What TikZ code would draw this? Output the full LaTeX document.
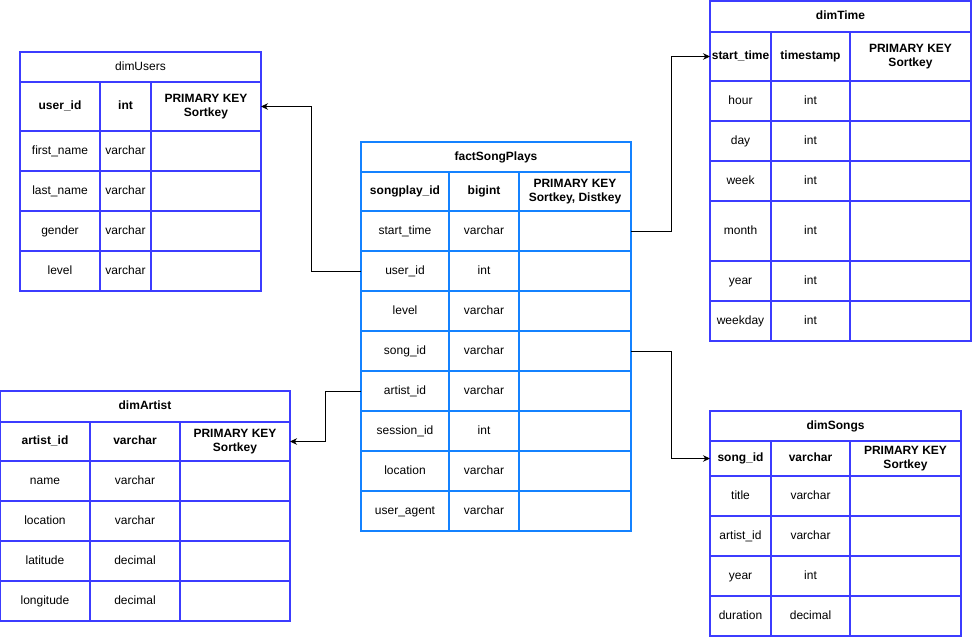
\documentclass[tikz,border=0pt]{standalone}
\usepackage{fontspec}
\setmainfont{Liberation Sans}
\usepackage{xcolor}
\usetikzlibrary{arrows.meta}

\definecolor{dimblue}{RGB}{60,60,255}
\definecolor{factblue}{RGB}{20,130,255}

\tikzset{
  cell/.style={draw=dimblue, line width=1.5pt, inner sep=1pt, outer sep=0pt, align=center, text height=9pt, text depth=3pt, font=\fontsize{12}{14}\selectfont},
  fcell/.style={cell, draw=factblue},
  hd/.style={font=\fontsize{12}{14}\selectfont\bfseries},
  pk/.style={hd, text height=, text depth=},
  link/.style={line width=0.8pt, -{Stealth[length=7pt,width=6.5pt]}}
}

\begin{document}
\begin{tikzpicture}[x=1pt, y=-1pt]
    \useasboundingbox (0,0) rectangle (972,637);

    % dimUsers
    \node[cell, minimum width=241, minimum height=30] (users) at (140.5,67) {dimUsers};
    \node[cell, hd, minimum width=80, minimum height=49] (users-0-a) at (60,106.5) {user\_id};
    \node[cell, hd, minimum width=51, minimum height=49] (users-0-b) at (125.5,106.5) {int};
    \node[cell, pk, minimum width=110, minimum height=49] (users-0-c) at (206,106.5) {PRIMARY KEY\\Sortkey};
    \foreach \n/\t/\y [count=\i] in {first\_name/varchar/151, last\_name/varchar/191, gender/varchar/231, level/varchar/271} {
        \node[cell, minimum width=80, minimum height=40] (users-\i-a) at (60,\y) {\n};
        \node[cell, minimum width=51, minimum height=40] (users-\i-b) at (125.5,\y) {\t};
        \node[cell, minimum width=110, minimum height=40] (users-\i-c) at (206,\y) {};
    }

    % factSongPlays
    \node[fcell, hd, minimum width=270, minimum height=30] (fact) at (496,157) {factSongPlays};
    \node[fcell, hd, minimum width=88, minimum height=39] (fact-0-a) at (405,191.5) {songplay\_id};
    \node[fcell, hd, minimum width=70, minimum height=39] (fact-0-b) at (484,191.5) {bigint};
    \node[fcell, pk, minimum width=112, minimum height=39] (fact-0-c) at (575,191.5) {PRIMARY KEY\\Sortkey, Distkey};
    \foreach \n/\t/\y [count=\i] in {start\_time/varchar/231, user\_id/int/271, level/varchar/311, song\_id/varchar/351, artist\_id/varchar/391, session\_id/int/431, location/varchar/471, user\_agent/varchar/511} {
        \node[fcell, minimum width=88, minimum height=40] (fact-\i-a) at (405,\y) {\n};
        \node[fcell, minimum width=70, minimum height=40] (fact-\i-b) at (484,\y) {\t};
        \node[fcell, minimum width=112, minimum height=40] (fact-\i-c) at (575,\y) {};
    }

    % dimTime
    \node[cell, hd, minimum width=261, minimum height=31] (time) at (840.5,16.5) {dimTime};
    \node[cell, hd, minimum width=61, minimum height=49] (time-0-a) at (740.5,56.5) {start\_time};
    \node[cell, hd, minimum width=79, minimum height=49] (time-0-b) at (810.5,56.5) {timestamp};
    \node[cell, pk, minimum width=121, minimum height=49] (time-0-c) at (910.5,56.5) {PRIMARY KEY\\Sortkey};
    \foreach \n/\t/\y/\h [count=\i] in {hour/int/101/40, day/int/141/40, week/int/181/40, month/int/231/60, year/int/281/40, weekday/int/321/40} {
        \node[cell, minimum width=61, minimum height=\h] (time-\i-a) at (740.5,\y) {\n};
        \node[cell, minimum width=79, minimum height=\h] (time-\i-b) at (810.5,\y) {\t};
        \node[cell, minimum width=121, minimum height=\h] (time-\i-c) at (910.5,\y) {};
    }

    % dimArtist
    \node[cell, hd, minimum width=290, minimum height=31] (artist) at (145,406.5) {dimArtist};
    \node[cell, hd, minimum width=90, minimum height=39] (artist-0-a) at (45,441.5) {artist\_id};
    \node[cell, hd, minimum width=90, minimum height=39] (artist-0-b) at (135,441.5) {varchar};
    \node[cell, pk, minimum width=110, minimum height=39] (artist-0-c) at (235,441.5) {PRIMARY KEY\\Sortkey};
    \foreach \n/\t/\y [count=\i] in {name/varchar/481, location/varchar/521, latitude/decimal/561, longitude/decimal/601} {
        \node[cell, minimum width=90, minimum height=40] (artist-\i-a) at (45,\y) {\n};
        \node[cell, minimum width=90, minimum height=40] (artist-\i-b) at (135,\y) {\t};
        \node[cell, minimum width=110, minimum height=40] (artist-\i-c) at (235,\y) {};
    }

    % dimSongs
    \node[cell, hd, minimum width=251, minimum height=30] (songs) at (835.5,426) {dimSongs};
    \node[cell, hd, minimum width=61, minimum height=35] (songs-0-a) at (740.5,458.5) {song\_id};
    \node[cell, hd, minimum width=79, minimum height=35] (songs-0-b) at (810.5,458.5) {varchar};
    \node[cell, pk, minimum width=111, minimum height=35] (songs-0-c) at (905.5,458.5) {PRIMARY KEY\\Sortkey};
    \foreach \n/\t/\y [count=\i] in {title/varchar/496, artist\_id/varchar/536, year/int/576, duration/decimal/616} {
        \node[cell, minimum width=61, minimum height=40] (songs-\i-a) at (740.5,\y) {\n};
        \node[cell, minimum width=79, minimum height=40] (songs-\i-b) at (810.5,\y) {\t};
        \node[cell, minimum width=111, minimum height=40] (songs-\i-c) at (905.5,\y) {};
    }

    % keys
    \draw[link] (fact-2-a.west) -- ++(-50,0) |- (users-0-c.east);
    \draw[link] (fact-1-c.east) -- ++(40,0) |- (time-0-a.west);
    \draw[link] (fact-5-a.west) -- ++(-36,0) |- (artist-0-c.east);
    \draw[link] (fact-4-c.east) -- ++(40,0) |- (songs-0-a.west);

\end{tikzpicture}
\end{document}
